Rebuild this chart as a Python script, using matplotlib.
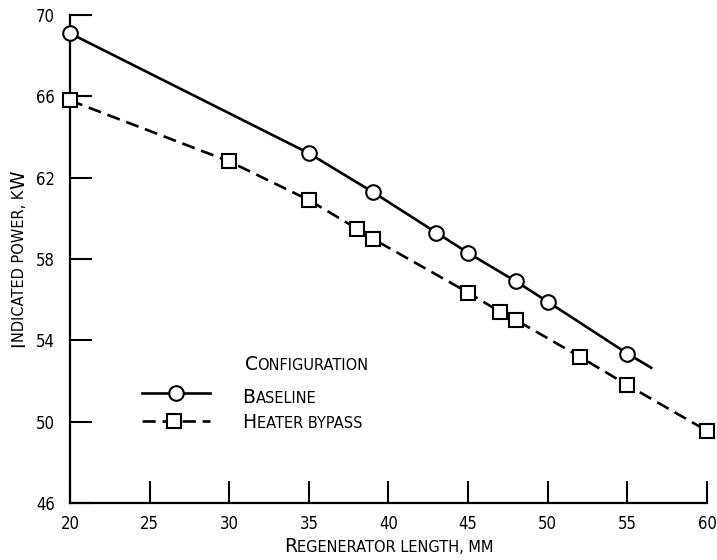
import matplotlib
matplotlib.use('Agg')
import matplotlib.pyplot as plt
from matplotlib.transforms import offset_copy
from matplotlib.lines import Line2D

# Baseline configuration (circles)
base_x = [20, 35, 39, 43, 45, 48, 50, 55]
base_y = [69.1, 63.2, 61.3, 59.3, 58.3, 56.9, 55.9, 53.35]
# curve is faired a little beyond the last point
base_end_x = 56.5
base_end_y = 52.65

# Heater bypass configuration (squares)
heat_x = [20, 30, 35, 38, 39, 45, 47, 48, 52, 55, 60]
heat_y = [65.8, 62.8, 60.9, 59.5, 59.0, 56.35, 55.4, 55.0, 53.2, 51.8, 49.55]

xticks = [20, 25, 30, 35, 40, 45, 50, 55, 60]
yticks = [46, 50, 54, 58, 62, 66, 70]

TICKFONT = dict(family='DejaVu Sans', stretch='condensed')
LABELFONT = dict(family='DejaVu Sans')
BIG = 13.5
SMALL = 10.5

fig = plt.figure(figsize=(7.17, 5.6), dpi=100)
ax = fig.add_axes([0.0976, 0.1018, 0.8884, 0.8714])

ax.plot(base_x + [base_end_x], base_y + [base_end_y], color='black', lw=1.9,
        marker='o', markevery=list(range(len(base_x))), ms=10.5,
        mfc='white', mec='black', mew=1.5, clip_on=False, zorder=3)
ax.plot(heat_x, heat_y, color='black', lw=1.9, dashes=(5, 2.6),
        marker='s', ms=10, mfc='white', mec='black', mew=1.5,
        clip_on=False, zorder=3)

ax.set_xlim(20, 60)
ax.set_ylim(46, 70)
ax.set_xticks(xticks)
ax.set_yticks(yticks)
for s in ['top', 'right']:
    ax.spines[s].set_visible(False)
for s in ['left', 'bottom']:
    ax.spines[s].set_linewidth(1.6)
ax.tick_params(direction='in', length=16, width=1.5, labelsize=12)
ax.tick_params(axis='x', pad=9)
ax.tick_params(axis='y', pad=11)
for lab in ax.get_xticklabels() + ax.get_yticklabels():
    lab.set_fontfamily(TICKFONT['family'])
    lab.set_fontstretch(TICKFONT['stretch'])

renderer = fig.canvas.get_renderer()


def smallcaps(x, y, s, transform, rotation=0, ha='left'):
    # split into runs: capitals big, lowercase shown as small capitals
    runs = []
    for ch in s:
        size = BIG if ch.isupper() else SMALL
        if runs and runs[-1][1] == size:
            runs[-1][0] += ch.upper()
        else:
            runs.append([ch.upper(), size])
    widths = []
    for txt, size in runs:
        t = fig.text(0, 0, txt, fontsize=size, **LABELFONT)
        bb = t.get_window_extent(renderer)
        widths.append(bb.width)
        t.remove()
    start = -sum(widths) / 2 if ha == 'center' else 0
    pos = start
    for (txt, size), w in zip(runs, widths):
        if rotation == 90:
            tr = offset_copy(transform, fig=fig, x=0, y=pos, units='dots')
        else:
            tr = offset_copy(transform, fig=fig, x=pos, y=0, units='dots')
        fig.text(x, y, txt, fontsize=size, transform=tr, rotation=rotation,
                 rotation_mode='anchor', ha='left', va='baseline', **LABELFONT)
        pos += w


smallcaps(0.5, -0.1, 'Regenerator length, mm', ax.transAxes, ha='center')
smallcaps(-0.072, 0.5, 'Indicated power, kW', ax.transAxes, rotation=90,
          ha='center')

# legend
smallcaps(0.274, 0.2725, 'Configuration', ax.transAxes)
smallcaps(0.271, 0.2049, 'Baseline', ax.transAxes)
smallcaps(0.271, 0.1537, 'Heater bypass', ax.transAxes)
ax.add_line(Line2D([0.1125, 0.2198], [0.2254, 0.2254], transform=ax.transAxes,
                   color='black', lw=1.9, clip_on=False))
ax.add_line(Line2D([0.166], [0.2254], transform=ax.transAxes, marker='o',
                   ms=10.5, mfc='white', mec='black', mew=1.5, clip_on=False))
ax.add_line(Line2D([0.1125, 0.2198], [0.168, 0.168], transform=ax.transAxes,
                   color='black', lw=1.9, dashes=(5, 2.6), clip_on=False))
ax.add_line(Line2D([0.164], [0.168], transform=ax.transAxes, marker='s',
                   ms=10, mfc='white', mec='black', mew=1.5, clip_on=False))

fig.savefig('out.png', dpi=100)
